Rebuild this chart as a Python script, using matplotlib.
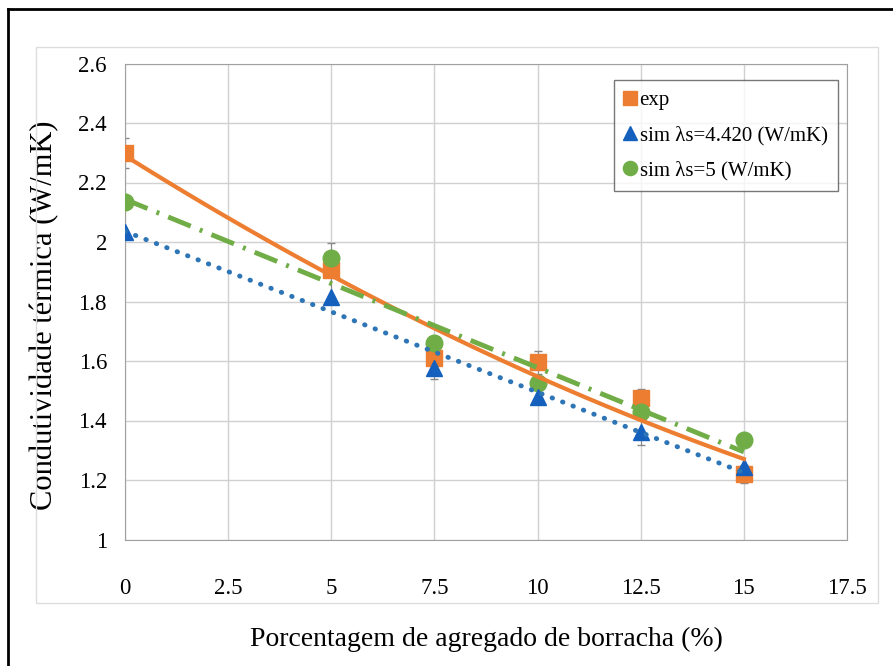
import numpy as np
import matplotlib.pyplot as plt
from matplotlib.lines import Line2D
from matplotlib.patches import Rectangle

plt.rcParams['font.family'] = ['Liberation Serif', 'DejaVu Serif']

# data
x = np.array([0, 5, 7.5, 10, 12.5, 15])
exp = np.array([2.30, 1.905, 1.61, 1.595, 1.477, 1.22])
err_lo = np.array([0.05, 0.09, 0.07, 0.04, 0.16, 0.03])
err_hi = np.array([0.05, 0.09, 0.03, 0.04, 0.03, 0.03])
sim442 = np.array([2.035, 1.815, 1.576, 1.479, 1.361, 1.245])
sim5 = np.array([2.134, 1.946, 1.66, 1.526, 1.43, 1.335])
labels = ['exp', 'sim λs=4.420 (W/mK)', 'sim λs=5 (W/mK)']
xticks = [0, 2.5, 5, 7.5, 10, 12.5, 15, 17.5]
yticks = [1, 1.2, 1.4, 1.6, 1.8, 2, 2.2, 2.4, 2.6]

c_exp = '#ED7D31'
c_tri = '#1560BD'
c_dot = '#2E75B6'
c_grn = '#70AD47'

fig = plt.figure(figsize=(8.93, 6.66), dpi=100)
ax = fig.add_axes([125/893, 1-539.5/666, 722/893, 476/666])

# outer frame (left and top only visible) and chart-area border
fig.add_artist(Line2D([8/893, 8/893], [0, 1-9/666], color='black', lw=2))
fig.add_artist(Line2D([8/893, 1], [1-9/666, 1-9/666], color='black', lw=2))
fig.add_artist(Rectangle((36/893, 1-603/666), (878-36)/893, (603-47)/666,
                         transform=fig.transFigure, fill=False,
                         edgecolor='#DDDDDD', lw=1))

ax.errorbar(x, exp, yerr=[err_lo, err_hi], fmt='none', ecolor='#888888',
            elinewidth=0.8, capsize=3, zorder=2)
ax.plot(x, exp, 's', color=c_exp, ms=12, label=labels[0], zorder=3)
ax.plot(x, sim5, 'o', color=c_grn, ms=12, label=labels[2], zorder=3)
ax.plot(x, sim442, '^', color=c_tri, ms=12, label=labels[1], zorder=3)

# trendlines
xs = np.linspace(0, 15, 100)
ax.plot(xs, np.polyval(np.polyfit(x, exp, 2), xs), '-', color=c_exp,
        lw=3, zorder=4)
ax.plot(xs, np.polyval(np.polyfit(x, sim442, 1), xs), color=c_dot,
        lw=3.5, ls=(0, (0.1, 2.2)), dash_capstyle='round', zorder=4)
ax.plot(xs, np.polyval(np.polyfit(x, sim5, 1), xs), color=c_grn,
        lw=3.5, ls=(0, (5, 2, 0.6, 2)), zorder=4)

ax.set_xlim(0, 17.5)
ax.set_ylim(1, 2.6)
ax.set_xticks(xticks)
ax.set_xticklabels(['%g' % t for t in xticks])
ax.set_yticks(yticks)
ax.set_yticklabels(['%g' % t for t in yticks])
ax.tick_params(axis='both', length=0, labelsize=16.5)
ax.tick_params(axis='x', pad=28)
ax.tick_params(axis='y', pad=13)
ax.grid(True, color='#D0D0D0', lw=1)
ax.set_axisbelow(True)
for s in ax.spines.values():
    s.set_color('#A0A0A0')

ax.set_xlabel('Porcentagem de agregado de borracha (%)', fontsize=20,
              labelpad=20)
ax.set_ylabel('Condutividade térmica (W/mK)', fontsize=22, va='center')
ax.yaxis.set_label_coords(-0.112, 0.472)

h, l = ax.get_legend_handles_labels()
order = [0, 2, 1]
leg = ax.legend([h[i] for i in order], [l[i] for i in order],
                loc='upper right', bbox_to_anchor=(0.9875, 0.965),
                borderaxespad=0,
                fontsize=15, fancybox=False, edgecolor='#555555',
                handlelength=0.6, handletextpad=0.15, markerscale=0.85,
                borderpad=0.5, labelspacing=0.75)
leg.get_frame().set_linewidth(1)

fig.savefig('out.png', dpi=100)
